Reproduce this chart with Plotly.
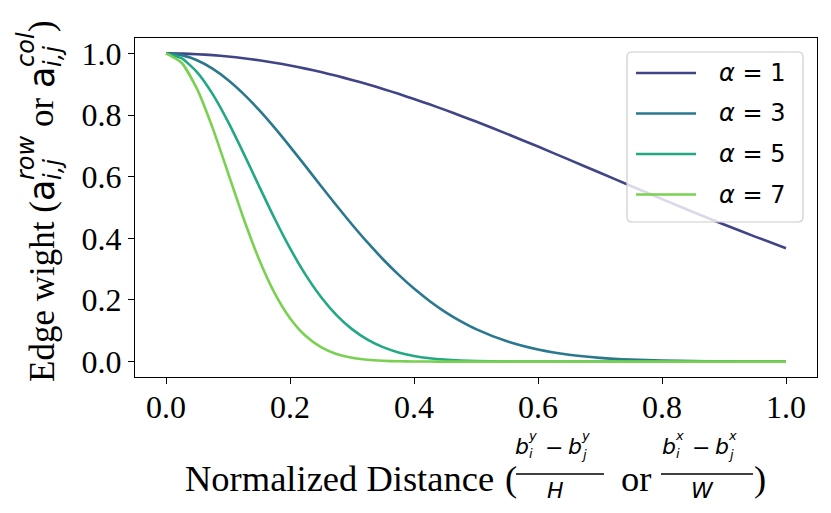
import plotly.graph_objects as go

# normalized distance samples and edge weights
dist = [0, 0.025, 0.05, 0.075, 0.1, 0.125, 0.15, 0.175, 0.2, 0.225, 0.25, 0.275, 0.3, 0.325,
        0.35, 0.375, 0.4, 0.425, 0.45, 0.475, 0.5, 0.55, 0.6, 0.65, 0.7, 0.75, 0.8, 0.85,
        0.9, 0.95, 1.0]
w_a1 = [1, 0.9994, 0.9975, 0.9944, 0.990, 0.9845, 0.9778, 0.9698, 0.9608, 0.9506, 0.9394,
        0.9272, 0.9139, 0.8998, 0.8847, 0.8688, 0.8521, 0.8347, 0.8167, 0.7980, 0.7788,
        0.7390, 0.6977, 0.6554, 0.6126, 0.5698, 0.5273, 0.4856, 0.4449, 0.4056, 0.3679]
w_a3 = [1, 0.9944, 0.9778, 0.9506, 0.9139, 0.8688, 0.8167, 0.7591, 0.6977, 0.6341, 0.5698,
        0.5063, 0.4449, 0.3865, 0.3321, 0.2821, 0.2369, 0.1968, 0.1616, 0.1313, 0.1054,
        0.0657, 0.0392, 0.0223, 0.0122, 0.0063, 0.0032, 0.0015, 0.0007, 0.0003, 0.0001]
w_a5 = [1, 0.9845, 0.9394, 0.8688, 0.7788, 0.6766, 0.5698, 0.4650, 0.3679, 0.2821, 0.2096,
        0.1510, 0.1054, 0.0713, 0.0468, 0.0297, 0.0183, 0.0109, 0.0063, 0.0036, 0.0019,
        0.0005, 0.0001, 0, 0, 0, 0, 0, 0, 0, 0]
w_a7 = [1, 0.9698, 0.8847, 0.7591, 0.6126, 0.4650, 0.3321, 0.2230, 0.1409, 0.0837, 0.0468,
        0.0246, 0.0122, 0.0057, 0.0025, 0.0010, 0.0004, 0.0001, 0, 0, 0,
        0, 0, 0, 0, 0, 0, 0, 0, 0, 0]
alphas = [1, 3, 5, 7]
weights = [w_a1, w_a3, w_a5, w_a7]
colors = ['#414487', '#2a788e', '#22a884', '#7ad151']
ticks = [0.0, 0.2, 0.4, 0.6, 0.8, 1.0]

SERIF = 'Liberation Serif'
SANS = 'DejaVu Sans'

# plot box in page pixels (the html body adds an 8px margin)
OFF = 8
PL, PR, PT, PB = 135, 817, 38, 377
W, H = 831 - OFF * 2, 513 - OFF * 2
def px(x):
    return (x - PL) / (PR - PL)
def py(y):
    return (PB - y) / (PB - PT)

fig = go.Figure()
for a, w, c in zip(alphas, weights, colors):
    fig.add_trace(go.Scatter(x=dist, y=w, mode='lines', name='α = %d' % a, showlegend=False,
                             line=dict(color=c, width=2.6, shape='spline', smoothing=0.6)))

axis_style = dict(showline=True, linewidth=1.3, linecolor='black', mirror=True, ticks='outside',
                  ticklen=6, tickwidth=1.2, tickcolor='black', showgrid=False, zeroline=False,
                  tickvals=ticks, tickformat='.1f',
                  tickfont=dict(family=SERIF, size=32, color='black'))
fig.update_xaxes(range=[-0.05, 1.05], ticklabelstandoff=-5, **axis_style)
fig.update_yaxes(range=[-0.05, 1.05], **axis_style)

ann = []
def txt(x, y, s, size, family=SERIF, xanchor='center', angle=0):
    ann.append(dict(x=px(x), y=py(y), xref='paper', yref='paper', text=s, showarrow=False,
                    xanchor=xanchor, yanchor='middle', textangle=angle, borderpad=0,
                    font=dict(family=family, size=size, color='black')))

shapes = []
def hline(x0, x1, y, color='black', width=1.4):
    shapes.append(dict(type='line', xref='paper', yref='paper', x0=px(x0), x1=px(x1),
                       y0=py(y), y1=py(y), line=dict(color=color, width=width), layer='above'))

# x axis title with two stacked fractions
txt(184, 478, 'Normalized Distance', 36.5, xanchor='left')
txt(504, 478, '(', 36.5, xanchor='left')
for lx0, lx1, sup, den in [(515, 605, 'y', 'H'), (660, 754, 'x', 'W')]:
    cx = (lx0 + lx1) / 2
    hline(lx0 + 1, lx1 - 1, 474)
    txt(cx - 38, 446, '<i>b</i>', 22, SANS)
    txt(cx - 28, 435, '<i>%s</i>' % sup, 13, SANS)
    txt(cx - 29, 453, '<i>i</i>', 13, SANS)
    txt(cx - 6, 447, '−', 22, SANS)
    txt(cx + 15, 446, '<i>b</i>', 22, SANS)
    txt(cx + 25, 435, '<i>%s</i>' % sup, 13, SANS)
    txt(cx + 24, 454, '<i>j</i>', 13, SANS)
    txt(cx - 5, 490, '<i>%s</i>' % den, 22, SANS)
txt(620, 478, 'or', 36.5, xanchor='left')
txt(753, 478, ')', 36.5, xanchor='left')

# y axis title, rotated pieces with stacked scripts
txt(42, 292, 'Edge wight (', 35, angle=-90)
txt(42, 191, 'a', 35, SANS, angle=-90)
txt(26, 158, '<i>row</i>', 24, SANS, angle=-90)
txt(53, 170, '<i>i,j</i>', 24, SANS, angle=-90)
txt(42, 112, 'or', 35, angle=-90)
txt(42, 78, 'a', 35, SANS, angle=-90)
txt(26, 50, '<i>col</i>', 24, SANS, angle=-90)
txt(53, 57, '<i>i,j</i>', 24, SANS, angle=-90)
txt(42, 26, ')', 35, angle=-90)

# legend box
bx0, bx1, by0, by1, r = 627, 803, 52, 222, 5
rx, ry = r / (PR - PL), r / (PB - PT)
X0, X1, Y0, Y1 = px(bx0), px(bx1), py(by1), py(by0)
path = ('M%f,%f L%f,%f Q%f,%f %f,%f L%f,%f Q%f,%f %f,%f L%f,%f Q%f,%f %f,%f L%f,%f Q%f,%f %f,%f Z'
        % (X0 + rx, Y0, X1 - rx, Y0, X1, Y0, X1, Y0 + ry, X1, Y1 - ry, X1, Y1, X1 - rx, Y1,
           X0 + rx, Y1, X0, Y1, X0, Y1 - ry, X0, Y0 + ry, X0, Y0, X0 + rx, Y0))
shapes.append(dict(type='path', xref='paper', yref='paper', path=path, layer='above',
                   fillcolor='rgba(255,255,255,0.8)', line=dict(color='#cccccc', width=1.2)))
for i, (a, c) in enumerate(zip(alphas, colors)):
    ry_ = 73 + i * 40.5
    hline(636, 696, ry_, color=c, width=2.6)
    txt(718, ry_, '<i>α</i> = %d' % a, 24, SANS, xanchor='left')

fig.update_layout(width=W, height=H, autosize=False, plot_bgcolor='white',
                  paper_bgcolor='white',
                  margin=dict(l=PL - OFF, r=W + OFF - PR, t=PT - OFF, b=H + OFF - PB, pad=0),
                  annotations=ann, shapes=shapes, showlegend=False)
fig.write_html("out.html")
